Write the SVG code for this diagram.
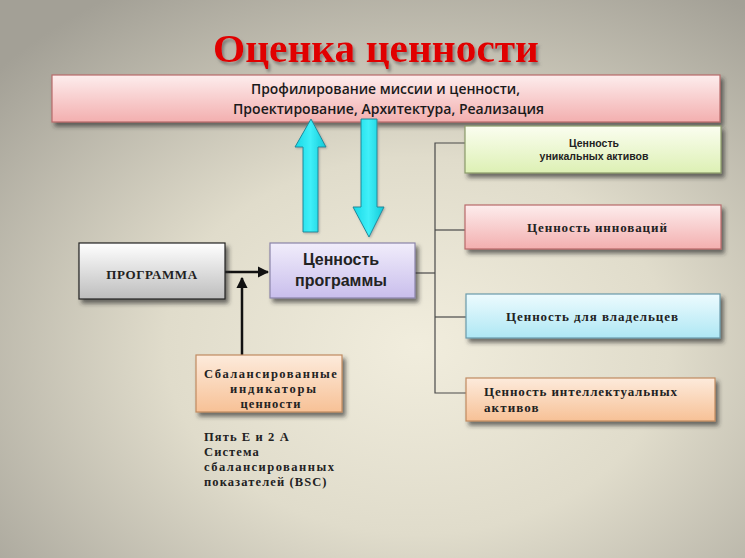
<svg xmlns="http://www.w3.org/2000/svg" width="745" height="558" viewBox="0 0 745 558">
<defs>
  <radialGradient id="bg" cx="0.56" cy="0.62" r="0.75">
    <stop offset="0" stop-color="#F1EDDD"/>
    <stop offset="0.45" stop-color="#E0DCCB"/>
    <stop offset="1" stop-color="#A3A096"/>
  </radialGradient>
  <linearGradient id="gPink" x1="0" y1="0" x2="0" y2="1">
    <stop offset="0" stop-color="#FDEDED"/>
    <stop offset="1" stop-color="#F3AFAF"/>
  </linearGradient>
  <linearGradient id="gGray" x1="0" y1="0" x2="0" y2="1">
    <stop offset="0" stop-color="#FFFFFF"/>
    <stop offset="1" stop-color="#BDBDBD"/>
  </linearGradient>
  <linearGradient id="gLav" x1="0" y1="0" x2="0" y2="1">
    <stop offset="0" stop-color="#F1EDFB"/>
    <stop offset="1" stop-color="#C9BEEC"/>
  </linearGradient>
  <linearGradient id="gOrange" x1="0" y1="0" x2="0" y2="1">
    <stop offset="0" stop-color="#FDEBDC"/>
    <stop offset="1" stop-color="#F7C196"/>
  </linearGradient>
  <linearGradient id="gGreen" x1="0" y1="0" x2="0" y2="1">
    <stop offset="0" stop-color="#FBFEF0"/>
    <stop offset="1" stop-color="#DDF0B4"/>
  </linearGradient>
  <linearGradient id="gCyan" x1="0" y1="0" x2="0" y2="1">
    <stop offset="0" stop-color="#EDFBFE"/>
    <stop offset="1" stop-color="#AEE7F4"/>
  </linearGradient>
  <linearGradient id="gArrow" x1="0" y1="0" x2="1" y2="0">
    <stop offset="0" stop-color="#18D8E6"/>
    <stop offset="0.5" stop-color="#3FEFF8"/>
    <stop offset="1" stop-color="#12C9D8"/>
  </linearGradient>
  <filter id="sh" x="-10%" y="-20%" width="130%" height="150%">
    <feDropShadow dx="3" dy="4" stdDeviation="2" flood-color="#2a2a2a" flood-opacity="0.65"/>
  </filter>
  <filter id="tsh" x="-5%" y="-20%" width="115%" height="150%">
    <feDropShadow dx="2" dy="3" stdDeviation="1.5" flood-color="#555" flood-opacity="0.6"/>
  </filter>
  <filter id="glow" x="-5%" y="-30%" width="110%" height="160%">
    <feDropShadow dx="1" dy="1" stdDeviation="1" flood-color="#888" flood-opacity="0.6"/>
  </filter>
  <marker id="ah" viewBox="0 0 10 10" refX="9" refY="5" markerWidth="4.5" markerHeight="4.5" orient="auto" markerUnits="strokeWidth">
    <path d="M0,0 L10,5 L0,10 z" fill="#111"/>
  </marker>
  <style>
    .box { stroke-width: 1.2; filter: url(#sh); }
    .sans { font-family: "Liberation Sans", Arial, sans-serif; fill: #222; }
    .cal { font-family: "Open Sans", "Liberation Sans", Arial, sans-serif; font-weight: 600; fill: #1a1a1a; }
    .serif { font-family: "Liberation Serif", "Times New Roman", serif; fill: #222; font-weight: bold; letter-spacing: 1.1px; }
    .conn { stroke: #4a4a4a; stroke-width: 1.2; fill: none; }
    .blk { stroke: #111; stroke-width: 2.5; fill: none; }
  </style>
</defs>

<rect x="0" y="0" width="745" height="558" fill="url(#bg)"/>

<text x="376" y="62" text-anchor="middle" font-family="Liberation Serif, 'Times New Roman', serif" font-weight="bold" font-size="41" fill="#E00000" filter="url(#tsh)" textLength="326" lengthAdjust="spacingAndGlyphs">Оценка ценности</text>

<g id="top">
  <rect class="box" x="52" y="75" width="668" height="47" fill="url(#gPink)" stroke="#B86A6A"/>
  <text class="cal" x="251" y="94" font-size="13.5" textLength="269" lengthAdjust="spacingAndGlyphs">Профилирование  миссии и ценности,</text>
  <text class="cal" x="233" y="114" font-size="13.5" textLength="311" lengthAdjust="spacingAndGlyphs">Проектирование,  Архитектура, Реализация</text>
</g>

<g id="cyan-arrows" filter="url(#glow)">
  <polygon points="311,119 326,147 318,147 318,232 303,232 303,147 295,147" fill="url(#gArrow)" stroke="#1A8A9A" stroke-width="1"/>
  <polygon points="361,119 377,119 377,207 384,207 369,237 353,207 361,207" fill="url(#gArrow)" stroke="#1A8A9A" stroke-width="1"/>
</g>

<g id="connectors">
  <polyline class="conn" points="415,273 435,273"/>
  <polyline class="conn" points="466,143 435,143 435,393 466,393"/>
  <line class="conn" x1="435" y1="230" x2="466" y2="230"/>
  <line class="conn" x1="435" y1="317" x2="466" y2="317"/>
  <line class="blk" x1="225" y1="272" x2="268" y2="272" marker-end="url(#ah)"/>
  <line class="blk" x1="242" y1="355" x2="242" y2="278" marker-end="url(#ah)"/>
</g>

<g id="programma">
  <rect class="box" x="79" y="243" width="146" height="56" fill="url(#gGray)" stroke="#222"/>
  <text class="serif" x="152" y="279" text-anchor="middle" font-size="13" style="letter-spacing:0.6px">ПРОГРАММА</text>
</g>

<g id="cennost-programmy">
  <rect class="box" x="270" y="243" width="145" height="55" fill="url(#gLav)" stroke="#8A84A8"/>
  <text class="sans" x="341" y="265" text-anchor="middle" font-size="16" font-weight="bold" fill="#333">Ценность</text>
  <text class="sans" x="341" y="286" text-anchor="middle" font-size="16" font-weight="bold" fill="#333">программы</text>
</g>

<g id="balanced">
  <rect class="box" x="196" y="355" width="146" height="57" fill="url(#gOrange)" stroke="#C08A60"/>
  <text class="serif" x="204" y="378" font-size="12.5" textLength="134" lengthAdjust="spacing">Сбалансированные</text>
  <text class="serif" x="274" y="393" text-anchor="middle" font-size="12.5" style="letter-spacing:1.8px">индикаторы</text>
  <text class="serif" x="271" y="408" text-anchor="middle" font-size="12.5">ценности</text>
</g>

<g id="notes">
  <text class="serif" x="204" y="441" font-size="12.5">Пять E и 2 A</text>
  <text class="serif" x="204" y="456" font-size="12.5">Система</text>
  <text class="serif" x="204" y="471" font-size="12.5" textLength="131" lengthAdjust="spacing">сбалансированных</text>
  <text class="serif" x="204" y="486" font-size="12.5">показателей (BSC)</text>
</g>

<g id="unique">
  <rect class="box" x="465" y="126" width="256" height="47" fill="url(#gGreen)" stroke="#8A9A6A"/>
  <text class="sans" x="594" y="147" text-anchor="middle" font-size="10.5" font-weight="bold">Ценность</text>
  <text class="sans" x="594" y="160" text-anchor="middle" font-size="10.5" font-weight="bold">уникальных активов</text>
</g>

<g id="innov">
  <rect class="box" x="465" y="205" width="256" height="44" fill="url(#gPink)" stroke="#B86A6A"/>
  <text class="serif" x="527" y="232" font-size="13" textLength="141" lengthAdjust="spacing">Ценность инноваций</text>
</g>

<g id="owners">
  <rect class="box" x="466" y="294" width="254" height="44" fill="url(#gCyan)" stroke="#6A9AAA"/>
  <text class="serif" x="506" y="321" font-size="13" textLength="173" lengthAdjust="spacing">Ценность для владельцев</text>
</g>

<g id="intellect">
  <rect class="box" x="466" y="378" width="249" height="43" fill="url(#gOrange)" stroke="#C08A60"/>
  <text class="serif" x="484" y="396" font-size="13" textLength="194" lengthAdjust="spacing">Ценность интеллектуальных</text>
  <text class="serif" x="484" y="412" font-size="13">активов</text>
</g>
</svg>
